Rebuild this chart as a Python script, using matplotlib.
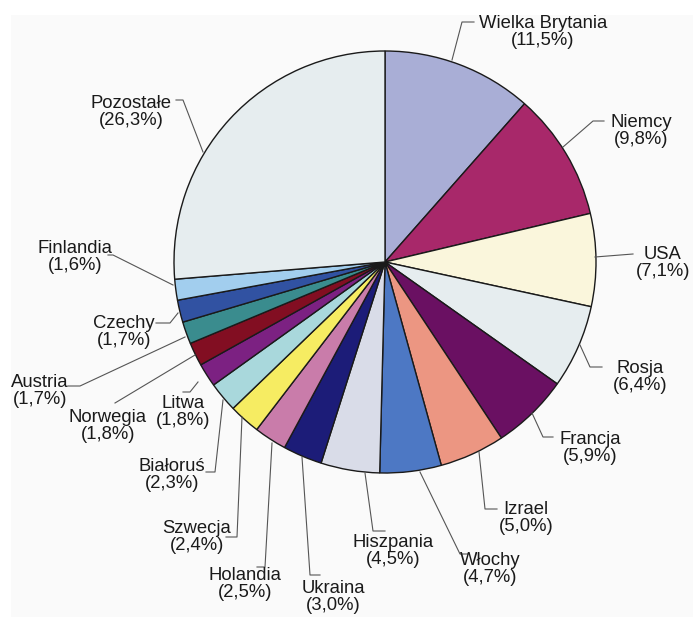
import matplotlib.pyplot as plt
from matplotlib.patches import Rectangle

plt.rcParams['font.family'] = ['Liberation Sans', 'DejaVu Sans']

# Data
countries = ['Wielka Brytania', 'Niemcy', 'USA', 'Rosja', 'Francja', 'Izrael',
             'Włochy', 'Hiszpania', 'Ukraina', 'Holandia', 'Szwecja', 'Białoruś',
             'Litwa', 'Norwegia', 'Austria', 'Czechy', 'Finlandia', 'Pozostałe']
shares = [11.5, 9.8, 7.1, 6.4, 5.9, 5.0, 4.7, 4.5, 3.0, 2.5, 2.4, 2.3,
          1.8, 1.8, 1.7, 1.7, 1.6, 26.3]
colors = ['#A9AED6', '#A8286A', '#FAF6DC', '#E6EDEF', '#6A1062', '#EC9682',
          '#4D78C4', '#D9DCE8', '#1C1C78', '#C97CAA', '#F6EC62', '#A9D8DC',
          '#7C2182', '#820E22', '#3A8C8E', '#3152A2', '#A2CEEE', '#E6EDEF']

# label text position (pixel coords, text center) and leader line points
label_pos = {
    'Wielka Brytania': (543, 32), 'Niemcy': (641, 131), 'USA': (663, 263),
    'Rosja': (640, 377), 'Francja': (590, 448), 'Izrael': (526, 518),
    'Włochy': (490, 569), 'Hiszpania': (393, 551), 'Ukraina': (333, 597),
    'Holandia': (245, 584), 'Szwecja': (197, 537), 'Białoruś': (172, 475),
    'Litwa': (183, 412), 'Norwegia': (108, 426), 'Austria': (40, 391),
    'Czechy': (124, 332), 'Finlandia': (75, 257), 'Pozostałe': (131, 112),
}
leaders = {
    'Wielka Brytania': [(452, 60), (462, 22), (474, 22)],
    'Niemcy': [(563, 147), (593, 121), (604, 121)],
    'USA': [(595, 257), (633, 254)],
    'Rosja': [(580, 345), (590, 367), (602, 367)],
    'Francja': [(532, 413), (543, 437), (553, 437)],
    'Izrael': [(479, 452), (485, 509), (497, 509)],
    'Włochy': [(420, 472), (460, 554), (468, 554)],
    'Hiszpania': [(365, 473), (373, 531), (385, 531)],
    'Ukraina': [(302, 457), (310, 575), (320, 575)],
    'Holandia': [(272, 443), (265, 567), (257, 567)],
    'Szwecja': [(242, 417), (237, 537), (226, 537)],
    'Białoruś': [(223, 400), (215, 472), (206, 472)],
    'Litwa': [(198, 382), (190, 392), (183, 392)],
    'Norwegia': [(195, 355), (115, 403)],
    'Austria': [(185, 337), (80, 386), (68, 386)],
    'Czechy': [(178, 313), (170, 323), (156, 323)],
    'Finlandia': [(173, 285), (113, 255), (108, 255)],
    'Pozostałe': [(203, 152), (183, 100), (176, 100)],
}

W, H = 693, 617
fig = plt.figure(figsize=(W / 100, H / 100), dpi=100)
ax = fig.add_axes([0, 0, 1, 1])

ax.add_patch(Rectangle((11, 0), W - 11, H - 15, facecolor='#FAFAFA',
                       edgecolor='none', zorder=0))

ax.pie(shares, colors=colors, startangle=90, counterclock=False,
       center=(385, H - 262), radius=211, frame=True,
       wedgeprops={'edgecolor': '#1a1a1a', 'linewidth': 1.0})
ax.set_xlim(0, W)
ax.set_ylim(0, H)
ax.set_aspect('equal')
ax.axis('off')

for name, val in zip(countries, shares):
    pts = leaders[name]
    ax.plot([p[0] for p in pts], [H - p[1] for p in pts], color='#555555',
            lw=0.8, zorder=3)
    tx, ty = label_pos[name]
    label = '%s\n(%s%%)' % (name, ('%.1f' % val).replace('.', ','))
    ax.text(tx, H - ty, label, ha='center', va='center', fontsize=13.3,
            color='#1a1a1a', linespacing=0.95)

fig.savefig('out.png', dpi=100, facecolor='white')
